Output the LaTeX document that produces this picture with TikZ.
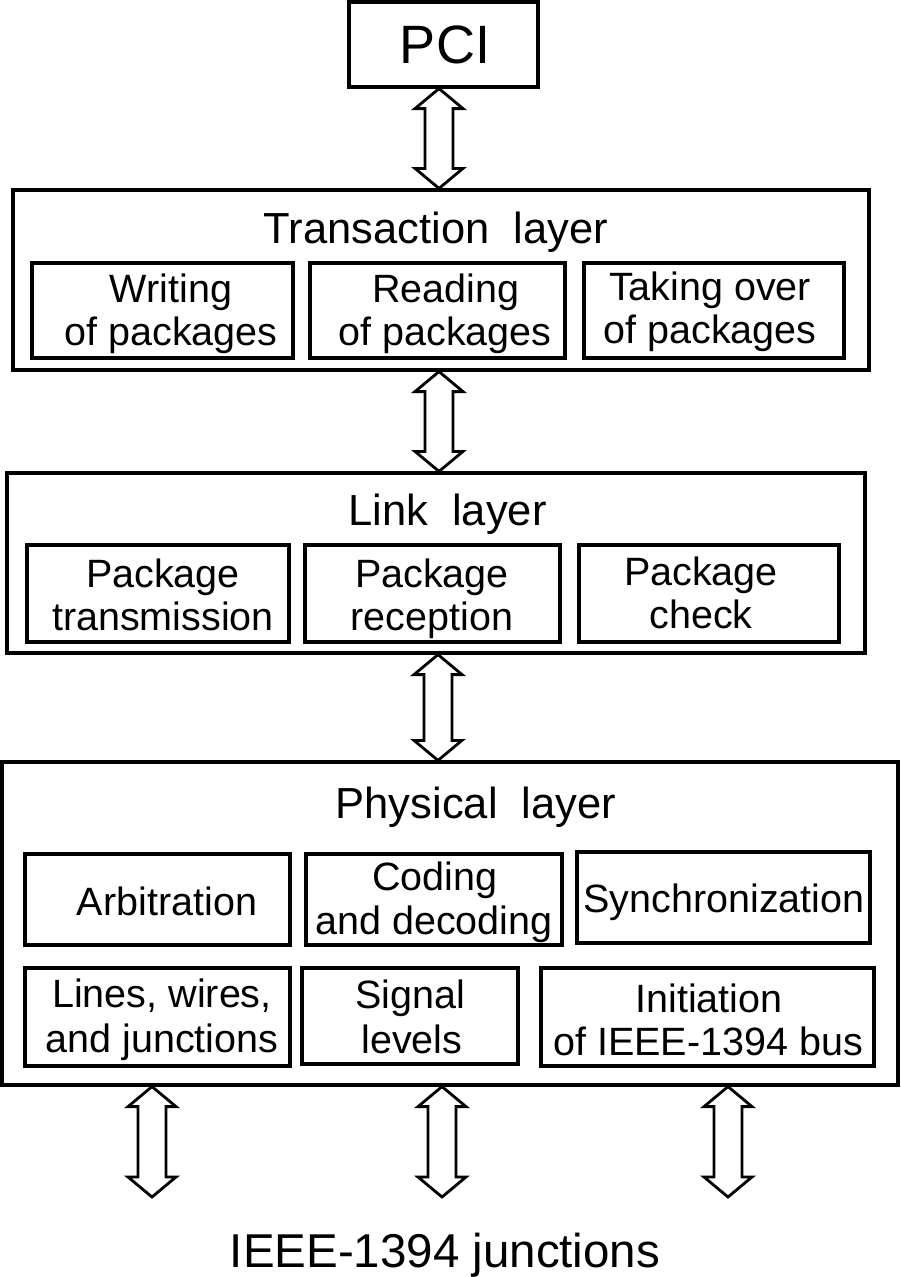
\documentclass[tikz,border=0pt]{standalone}
\usepackage{fontspec}
\setmainfont{Liberation Sans}
\usetikzlibrary{calc}
\newcommand\fttitle{\fontsize{43.5}{50}\selectfont}
\newcommand\ftinner{\fontsize{39.5}{43}\selectfont}
\newcommand\ftpci{\fontsize{54}{60}\selectfont}
\newcommand\ftbottom{\fontsize{47.5}{55}\selectfont}
\tikzset{
  bx/.style={draw, line width=3.2pt, inner sep=0pt, rectangle},
  lbl/.style={anchor=base, inner sep=0pt, font=\ftinner},
  ttl/.style={anchor=base, inner sep=0pt, font=\fttitle},
  dbl/.style={draw, line width=2.8pt, line join=miter, fill=white},
}
% double arrow between two points (top, bottom) given as coordinates
\newcommand\dblarrow[2]{%
  \draw[dbl] let \p1=#1, \p2=#2 in
    (\x1,\y1) -- (\x1+24pt,\y1-20pt) -- (\x1+14pt,\y1-20pt) --
    (\x1+14pt,\y2+20pt) -- (\x1+24pt,\y2+20pt) -- (\x1,\y2) --
    (\x1-24pt,\y2+20pt) -- (\x1-14pt,\y2+20pt) --
    (\x1-14pt,\y1-20pt) -- (\x1-24pt,\y1-20pt) -- cycle;}
\begin{document}
\begin{tikzpicture}[x=1pt,y=-1pt]
\useasboundingbox[fill=white] (0,0) rectangle (900,1277);

% PCI
\node[bx, minimum width=189pt, minimum height=85pt] (pci) at (443.5,44.5) {};
\node[anchor=base, inner sep=0pt, font=\ftpci] (pcit) at (445,63) {PCI};

% Transaction layer
\node[bx, minimum width=856pt, minimum height=180pt] (tr) at (441,280) {};
\node[ttl] (trt) at (436,243) {Transaction\ \ layer};
\node[bx, minimum width=261pt, minimum height=95pt] (wr) at (162.5,310.5) {};
\node[bx, minimum width=255pt, minimum height=95pt] (rd) at (437.5,310.5) {};
\node[bx, minimum width=260pt, minimum height=95pt] (tk) at (714,310.5) {};
\node[lbl] (wr1) at (171,302) {Writing};
\node[lbl] (wr2) at (171,345) {of packages};
\node[lbl] (rd1) at (446,302) {Reading};
\node[lbl] (rd2) at (445,345) {of packages};
\node[lbl] (tk1) at (710,300) {Taking over};
\node[lbl] (tk2) at (710,343) {of packages};

% Link layer
\node[bx, minimum width=858pt, minimum height=180pt] (ln) at (436,563) {};
\node[ttl] (lnt) at (447.5,525) {Link\ \ layer};
\node[bx, minimum width=262pt, minimum height=97pt] (tx) at (158,593.5) {};
\node[bx, minimum width=255pt, minimum height=97pt] (rc) at (432.5,593.5) {};
\node[bx, minimum width=260pt, minimum height=97pt] (ck) at (709,593.5) {};
\node[lbl] (tx1) at (163,587) {Package};
\node[lbl] (tx2) at (163,630) {transmission};
\node[lbl] (rc1) at (432,587) {Package};
\node[lbl] (rc2) at (432,630) {reception};
\node[lbl] (ck1) at (701,585) {Package};
\node[lbl] (ck2) at (701,628) {check};

% Physical layer
\node[bx, minimum width=896pt, minimum height=323pt] (ph) at (450,923.5) {};
\node[ttl] (pht) at (476,818) {Physical\ \ layer};
\node[bx, minimum width=265pt, minimum height=91pt] (ar) at (157.5,899.5) {};
\node[bx, minimum width=256pt, minimum height=91pt] (cd) at (434,899.5) {};
\node[bx, minimum width=293pt, minimum height=91pt] (sy) at (723.5,897.5) {};
\node[bx, minimum width=265pt, minimum height=98pt] (li) at (157.5,1017) {};
\node[bx, minimum width=216pt, minimum height=96pt] (sg) at (410,1016) {};
\node[bx, minimum width=333pt, minimum height=98pt] (ini) at (707.5,1017) {};
\node[lbl] (ar1) at (167,915) {Arbitration};
\node[lbl] (cd1) at (435,890) {Coding};
\node[lbl] (cd2) at (434,934) {and decoding};
\node[lbl] (sy1) at (724,912) {Synchronization};
\node[lbl] (li1) at (162,1007) {Lines, wires,};
\node[lbl] (li2) at (162,1052) {and junctions};
\node[lbl] (sg1) at (410,1008) {Signal};
\node[lbl] (sg2) at (412,1053) {levels};
\node[lbl] (ini1) at (709,1012) {Initiation};
\node[lbl] (ini2) at (708,1055) {of IEEE-1394 bus};

% bottom label
\node[anchor=base, inner sep=0pt, font=\ftbottom] (jn) at (445,1267) {IEEE-1394 junctions};

% arrow axes
\coordinate (a1) at (439,0);
\coordinate (a2) at (439,0);
\coordinate (a3) at (438,0);
\coordinate (b1) at (152,1197);
\coordinate (b2) at (442,1197);
\coordinate (b3) at (728,1197);

\dblarrow{(a1 |- pci.south)}{(a1 |- tr.north)}
\dblarrow{(a2 |- tr.south)}{(a2 |- ln.north)}
\dblarrow{(a3 |- ln.south)}{(a3 |- ph.north)}
\dblarrow{(b1 |- ph.south)}{(b1)}
\dblarrow{(b2 |- ph.south)}{(b2)}
\dblarrow{(b3 |- ph.south)}{(b3)}
\end{tikzpicture}
\end{document}
